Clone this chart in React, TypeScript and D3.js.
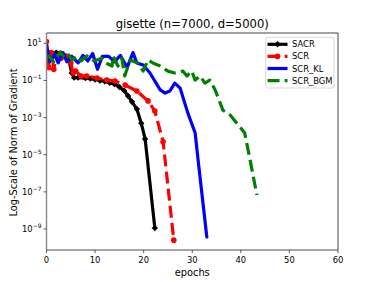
import React from "react";
import * as d3 from "d3";

const W = 376, H = 282;
const M = { left: 46.5, right: 338, top: 33, bottom: 250 };

const xTicks = [0, 10, 20, 30, 40, 50, 60];
const yTickExps = [1, -1, -3, -5, -7, -9];

const sacrEpochs = [0, 1, 2, 3, 4, 4.6, 5.2, 5.7, 6.5, 8, 9, 10, 11, 12, 13, 14, 15, 16, 16.8, 17.6, 18.6, 19.5, 20.3, 22.3];
const sacrLog = [0.6, 0.3, 0.5, 0.45, 0.3, 0.1, -0.6, -0.85, -0.85, -0.87, -0.9, -0.95, -1.0, -1.05, -1.12, -1.2, -1.35, -1.55, -1.84, -2.15, -2.54, -3.3, -4.15, -8.95];

const scrEpochs = [0, 0.5, 1, 1.5, 2, 3, 4, 5, 5.5, 6, 7.1, 8.3, 10.4, 12.4, 14.1, 16.2, 18.6, 20.9, 22.3, 24.0, 26.2];
const scrLog = [1.1, -0.3, 0.5, -0.4, 0.3, 0.2, 0.3, -0.06, -0.6, -0.5, -0.76, -0.76, -0.87, -0.98, -1.03, -1.25, -1.57, -2.1, -2.65, -4.3, -9.6];

const klEpochs = [0, 0.7, 1.7, 2.4, 3.4, 4.2, 5.2, 6.5, 7.5, 8.5, 9.5, 10.5, 11.5, 12.8, 14.0, 15.2, 16.6, 17.8, 18.6, 19.9, 21.3, 23.4, 24.4, 25.4, 26.4, 27.5, 29.1, 30.6, 31.2, 33.0];
const klLog = [0.9, 0.0, 0.4, -0.05, 0.5, 0.0, 0.3, -0.05, 0.35, 0.05, 0.45, -0.4, 0.3, 0.3, 0.0, 0.35, -0.3, 0.5, -0.06, -0.17, -0.6, -1.51, -1.68, -1.57, -1.14, -1.41, -2.76, -3.83, -5.28, -9.43];

const bgmEpochs = [0, 0.5, 1.5, 2.8, 3.8, 4.6, 5.2, 6.3, 7.1, 8.3, 9.8, 11.4, 12.2, 13.5, 13.7, 14.7, 15.5, 16.1, 17.2, 18.8, 19.9, 20.9, 21.9, 23.4, 25.0, 26.4, 28.1, 28.9, 29.9, 30.6, 31.6, 32.6, 33.6, 34.7, 36.3, 37.8, 39.8, 40.8, 41.9, 43.3];
const bgmLog = [0.2, 0.32, 0.0, 0.53, 0.2, 0.37, 0.1, 0.32, 0.05, 0.32, 0.05, 0.2, -0.06, -0.22, 0.32, -0.22, 0.2, -0.76, 0.1, -0.06, -0.5, 0.1, -0.06, -0.22, -0.5, -0.6, -0.5, -0.76, -0.5, -0.98, -0.76, -1.14, -0.98, -1.5, -2.6, -2.86, -3.5, -3.83, -5.28, -7.17];

const seriesNames = ["SACR", "SCR", "SCR_KL", "SCR_BGM"];
const seriesColors = ["#000000", "#ff0000", "#0000ff", "#008000"];

const x = d3.scaleLinear().domain([0, 60]).range([M.left, M.right]);
const y = d3.scaleLog().domain([Math.pow(10, -10.13), Math.pow(10, 1.555)]).range([M.bottom, M.top]);

const toPts = (ep: number[], lg: number[]) => ep.map((e, i) => [e, Math.pow(10, lg[i])] as [number, number]);

const line = d3.line<[number, number]>().x(d => x(d[0])).y(d => y(d[1]));

const LW = 3.2;
const DASH = "12,5.2";

const series = [
  { pts: toPts(sacrEpochs, sacrLog), dash: undefined, marker: "diamond" },
  { pts: toPts(scrEpochs, scrLog), dash: DASH, marker: "circle" },
  { pts: toPts(klEpochs, klLog), dash: undefined, marker: "none" },
  { pts: toPts(bgmEpochs, bgmLog), dash: DASH, marker: "none" },
];

function Marker({ kind, cx, cy, color }: { kind: string; cx: number; cy: number; color: string }) {
  if (kind === "diamond") {
    const r = 3.2;
    return <path d={`M${cx},${cy - r}L${cx + r},${cy}L${cx},${cy + r}L${cx - r},${cy}Z`} fill={color} />;
  }
  if (kind === "circle") return <circle cx={cx} cy={cy} r={2.8} fill={color} />;
  return null;
}

export default function App() {
  const font = "DejaVu Sans, sans-serif";
  return (
    <svg width={W} height={H} style={{ position: "absolute", left: 0, top: 0 }} fontFamily={font}>
      <rect x={0} y={0} width={W} height={H} fill="#fff" />
      <defs>
        <clipPath id="plot">
          <rect x={M.left} y={M.top} width={M.right - M.left} height={M.bottom - M.top} />
        </clipPath>
      </defs>
      <g clipPath="url(#plot)">
        {series.map((s, i) => (
          <g key={i}>
            <path d={line(s.pts) || ""} fill="none" stroke={seriesColors[i]} strokeWidth={LW}
              strokeDasharray={s.dash} strokeLinejoin="round" strokeLinecap={s.dash ? "butt" : "round"} />
            {s.pts.map((p, j) => (
              <Marker key={j} kind={s.marker} cx={x(p[0])} cy={y(p[1])} color={seriesColors[i]} />
            ))}
          </g>
        ))}
      </g>
      {/* spines */}
      <line x1={M.left} x2={M.left} y1={M.top} y2={M.bottom} stroke="#888" strokeWidth={1.4} />
      <line x1={M.left} x2={M.right} y1={M.bottom} y2={M.bottom} stroke="#888" strokeWidth={1.4} />
      <line x1={M.left} x2={M.right} y1={M.top} y2={M.top} stroke="#444" strokeWidth={1} />
      <line x1={M.right} x2={M.right} y1={M.top} y2={M.bottom} stroke="#444" strokeWidth={1} />
      {/* x ticks */}
      {xTicks.map(t => (
        <g key={t}>
          <line x1={x(t)} x2={x(t)} y1={M.bottom} y2={M.bottom + 3} stroke="#333" strokeWidth={0.8} />
          <text x={x(t)} y={M.bottom + 13} fontSize={8.4} textAnchor="middle" fill="#000">{t}</text>
        </g>
      ))}
      {/* y ticks */}
      {yTickExps.map(e => {
        const yy = y(Math.pow(10, e));
        return (
          <g key={e}>
            <line x1={M.left - 3} x2={M.left} y1={yy} y2={yy} stroke="#333" strokeWidth={0.8} />
            <text x={M.left - 5} y={yy + 3} fontSize={8.4} textAnchor="end" fill="#000">
              <tspan>10</tspan>
              <tspan fontSize={6} dy={-4}>{e < 0 ? "\u2212" + Math.abs(e) : String(e)}</tspan>
            </text>
          </g>
        );
      })}
      <text x={(M.left + M.right) / 2} y={276} fontSize={9.8} textAnchor="middle">epochs</text>
      <text transform={`translate(17,142.5) rotate(-90)`} fontSize={9.8} textAnchor="middle">
        Log-Scale of Norm of Gradient
      </text>
      <text x={(M.left + M.right) / 2} y={28} fontSize={11.6} textAnchor="middle">gisette (n=7000, d=5000)</text>
      {/* legend */}
      <rect x={265.7} y={37.3} width={68.3} height={50.7} rx={2} fill="#fff" fillOpacity={0.8} stroke="#ccc" strokeWidth={0.8} />
      {seriesNames.map((n, i) => {
        const ly = 44.3 + i * 12.1;
        const s = series[i];
        return (
          <g key={n}>
            <line x1={267.5} x2={287.5} y1={ly} y2={ly} stroke={seriesColors[i]} strokeWidth={LW} strokeDasharray={s.dash} />
            <Marker kind={s.marker} cx={277.5} cy={ly} color={seriesColors[i]} />
            <text x={292} y={ly + 3} fontSize={8.4}>{n}</text>
          </g>
        );
      })}
    </svg>
  );
}
